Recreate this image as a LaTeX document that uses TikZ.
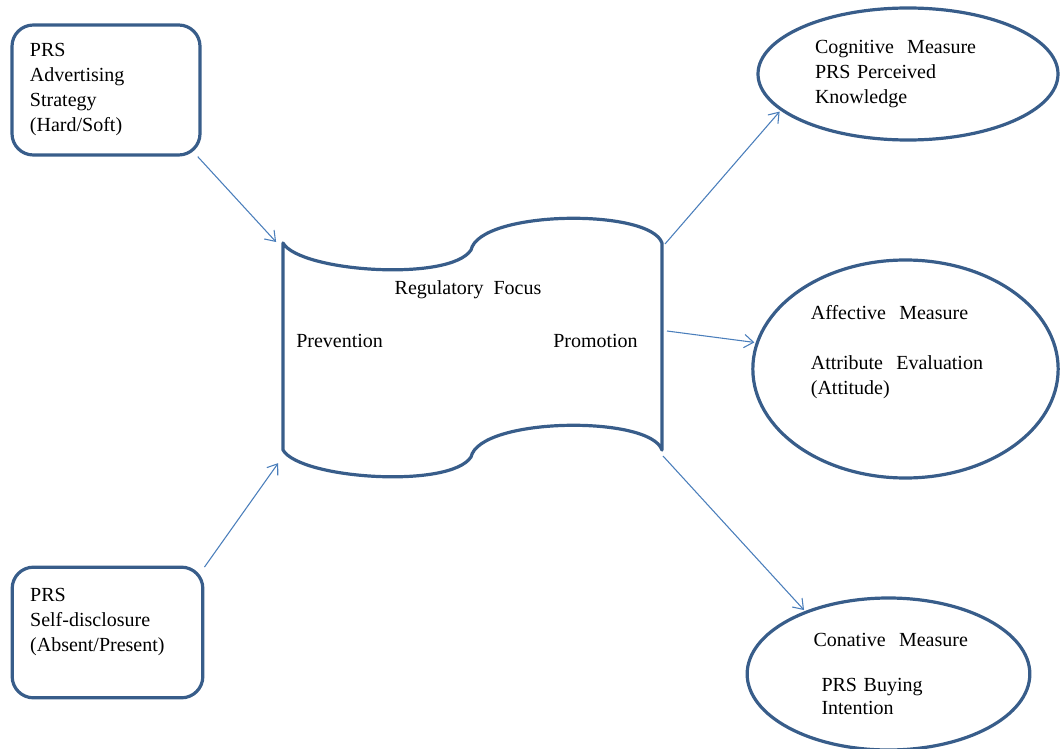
\documentclass[tikz,border=0pt]{standalone}
\usepackage{fontspec}
\setmainfont{Liberation Serif}
\usepackage{tikz}
\usetikzlibrary{arrows.meta,shapes.geometric}
\definecolor{boxblue}{RGB}{56,93,138}
\definecolor{arrowblue}{RGB}{74,126,187}

\begin{document}
\begin{tikzpicture}[x=0.75pt,y=-0.75pt,
  font=\fontsize{15}{18.75}\selectfont,
  rbox/.style={draw=boxblue,line width=2.4pt,rounded corners=16pt,align=left,inner sep=0pt},
  oval/.style={draw=boxblue,line width=2.4pt,ellipse,align=left,inner sep=0pt},
  lbl/.style={inner sep=0pt},
  link/.style={arrowblue,line width=0.8pt,shorten >=1pt,-{Straight Barb[length=7pt,width=10pt]}}]
  \useasboundingbox (0,0) rectangle (1061,749);
  % inputs
  \node[rbox,minimum width=141pt,minimum height=97.5pt,text width=114pt] (adv) at (106,90)
    {PRS\\Advertising\\Strategy\\(Hard/Soft)};
  \node[rbox,minimum width=143pt,minimum height=98pt,text width=116pt] (self) at (107.5,632.5)
    {PRS\\Self-disclosure\\(Absent/Present)\\\mbox{}};
  % regulatory focus scroll
  \draw[boxblue,line width=2.4pt,line join=round]
    (283,243) .. controls (300,272) and (450,282) .. (471,250)
    .. controls (480,210) and (650,208) .. (662,243) -- (662,450)
    .. controls (650,415) and (480,417) .. (471,457)
    .. controls (450,489) and (300,479) .. (283,450) -- cycle;
  \node[lbl] (focus) at (468,290) {Regulatory~~Focus};
  \node[lbl,anchor=west] (prev) at (296,341) {Prevention};
  \node[lbl,anchor=east] (prom) at (638,341) {Promotion};
  \coordinate (inA) at (277,243);
  \coordinate (inB) at (279,462);
  \coordinate (outA) at (665,244);
  \coordinate (outB) at (667,331);
  \coordinate (outC) at (663,456);
  % outcome measures
  \node[oval,minimum width=225pt,minimum height=99pt,text width=139.5pt] (cog) at (908,74)
    {Cognitive~ Measure\\PRS Perceived\\Knowledge};
  \node[oval,minimum width=229pt,minimum height=163.5pt,text width=142pt] (aff) at (905.5,369)
    {Affective~ Measure\\[18.75pt]Attribute~ Evaluation\\(Attitude)\\[10pt]\mbox{}};
  \node[oval,minimum width=212pt,minimum height=114pt,text width=112.5pt] (con) at (888.5,674)
    {\mbox{Conative~ Measure}\\[15pt]\hspace*{6pt}PRS Buying\\[-2pt]\hspace*{6pt}Intention};
  \draw[link] (adv.-36) -- (inA);
  \draw[link] (self.34) -- (inB);
  \draw[link] (outA) -- (cog.196);
  \draw[link] (outB) -- (aff.170);
  \draw[link] (outC) -- (con.143);
\end{tikzpicture}
\end{document}
